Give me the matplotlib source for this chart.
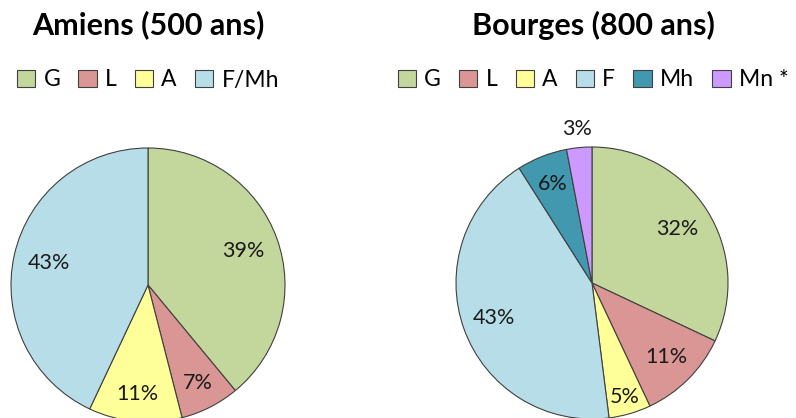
import matplotlib
matplotlib.use("Agg")
import matplotlib.pyplot as plt
from matplotlib.patches import Patch
import numpy as np

plt.rcParams['font.family'] = ['Lato', 'DejaVu Sans']

# data
amiens_labels = ['G', 'L', 'A', 'F/Mh']
amiens_values = [39, 7, 11, 43]
bourges_labels = ['G', 'L', 'A', 'F', 'Mh', 'Mn *']
bourges_values = [32, 11, 5, 43, 6, 3]

# colours
amiens_colors = ['#C3D69B', '#D99694', '#FFFF99', '#B7DEE8']
bourges_colors = ['#C3D69B', '#D99694', '#FFFF99', '#B7DEE8', '#4198AF', '#CC99FF']

# where each percentage sits (fraction of radius)
amiens_dist = [0.74, 0.8, 0.8, 0.74]
bourges_dist = [0.74, 0.77, 0.875, 0.77, 0.78, 1.14]

W, H = 796, 418
fig = plt.figure(figsize=(W / 100, H / 100), dpi=100)


def draw_pie(cx, cy, r, values, colors, dists, labels, title, title_x, legend_x):
    ax = fig.add_axes([(cx - r) / W, (H - cy - r) / H, 2 * r / W, 2 * r / H])
    wedges, _ = ax.pie(values, colors=colors, startangle=90, counterclock=False,
                       wedgeprops=dict(edgecolor='#404040', linewidth=0.8))
    ax.set_xlim(-1, 1)
    ax.set_ylim(-1, 1)
    for w in wedges:
        w.set_clip_on(False)
    total = sum(values)
    for w, v, d in zip(wedges, values, dists):
        ang = np.deg2rad((w.theta1 + w.theta2) / 2)
        ax.text(d * np.cos(ang), d * np.sin(ang), f"{round(100 * v / total)}%",
                ha='center', va='center', fontsize=15.5, color='#1a1a1a', clip_on=False)
    fig.text(title_x / W, 1 - 25 / H, title, ha='center', va='center',
             fontsize=22, fontweight='bold', color='black')
    handles = [Patch(facecolor=c, edgecolor='#404040', linewidth=0.8) for c in colors]
    fig.legend(handles, labels, loc='center', bbox_to_anchor=(legend_x / W, 1 - 80 / H),
               ncol=len(labels), frameon=False, fontsize=16.5, handlelength=0.8,
               handleheight=0.8, handletextpad=0.35, columnspacing=0.8,
               borderaxespad=0, borderpad=0)


draw_pie(148, 285, 137, amiens_values, amiens_colors, amiens_dist,
         amiens_labels, 'Amiens (500 ans)', 148, 148)
draw_pie(592, 283, 136, bourges_values, bourges_colors, bourges_dist,
         bourges_labels, 'Bourges (800 ans)', 593, 593)

fig.savefig('out.png', dpi=100)
